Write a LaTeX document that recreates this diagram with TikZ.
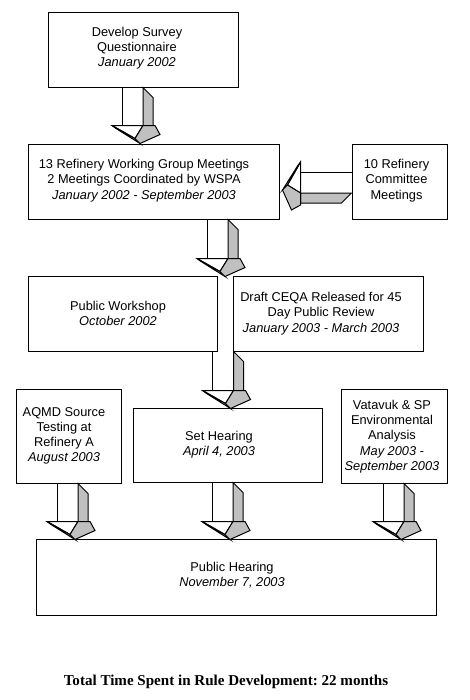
\documentclass[tikz,border=0pt]{standalone}
\usepackage{fontspec}
\setmainfont{Liberation Sans}
\newfontfamily\footfont{Liberation Serif}
\usetikzlibrary{calc}
\definecolor{side}{RGB}{192,192,192}
\frenchspacing
\tikzset{
    stage/.style={draw, fill=white, inner sep=0pt}, % the box of one step
    stagetext/.style={align=center, inner sep=0pt, font=\fontsize{9.6}{11.4}\selectfont}, % text set in a box
    pics/droparrow/.style={code={ % block arrow pointing down, #1 = shaft length
        \fill[white] (0,0) rectangle (21,#1);
        \draw (0,0) -- (0,#1);
        \filldraw[fill=side] (21,0) -- (31,10) -- (31,#1) -- (21,#1) -- cycle;
        \filldraw[fill=white] (-10,#1) -- (21,#1) -- (13,#1+13) -- cycle;
        \filldraw[fill=side] (-10,#1) -- (-6,#1+3) -- (18,#1+18) -- (13,#1+13) -- cycle;
        \filldraw[fill=side] (21,#1) -- (33,#1) -- (38,#1+9) -- (18,#1+18) -- (13,#1+13) -- cycle;
    }},
}

\begin{document}
\begin{tikzpicture}[x=0.75pt, y=-0.75pt, line width=0.75pt]
    \fill[white] (0,0) rectangle (470,700);

    % boxes
    \node[stage, minimum width=142.5pt, minimum height=56.25pt] (survey) at (143,49.5) {};
    \node[stage, minimum width=188.25pt, minimum height=56.25pt] (wg) at (153.5,181.5) {};
    \node[stage, minimum width=71.25pt, minimum height=56.25pt] (comm) at (399.5,181.5) {};
    \node[stage, minimum width=141.75pt, minimum height=56.25pt] (shop) at (122.5,313.5) {};
    \node[stage, minimum width=142.5pt, minimum height=56.25pt] (ceqa) at (328,313.5) {};
    \node[stage, minimum width=78.75pt, minimum height=70.5pt] (test) at (68.5,436) {};
    \node[stage, minimum width=141.75pt, minimum height=55.5pt] (set) at (227.5,445) {};
    \node[stage, minimum width=79.5pt, minimum height=70.5pt] (env) at (394,436) {};
    \node[stage, minimum width=300pt, minimum height=57pt] (hear) at (236,577) {};

    % texts
    \node[stagetext] (surveyT) at ($(survey)+(-6,-1.5)$) {Develop Survey\\Questionnaire\\\textit{January 2002}};
    \node[stagetext] (wgT) at ($(wg)+(-9.5,-1)$) {13 Refinery Working Group Meetings\\2 Meetings Coordinated by WSPA\\\textit{January 2002 - September 2003}};
    \node[stagetext] (commT) at ($(comm)+(-3,-1)$) {10 Refinery\\Committee\\Meetings};
    \node[stagetext] (shopT) at ($(shop)+(-4.5,0)$) {Public Workshop\\\textit{October 2002}};
    \node[stagetext] (ceqaT) at ($(ceqa)+(-7,0)$) {Draft CEQA Released for 45\\Day Public Review\\\textit{January 2003 - March 2003}};
    \node[stagetext] (testT) at ($(test)+(-4.5,0)$) {AQMD Source\\Testing at\\Refinery A\\\textit{August 2003}};
    \node[stagetext] (setT) at ($(set)+(-8.5,-0.5)$) {Set Hearing\\\textit{April 4, 2003}};
    \node[stagetext] (envT) at ($(env)+(-2,0.5)$) {Vatavuk \& SP\\Environmental\\Analysis\\\textit{May 2003 -}\\\textit{September 2003}};
    \node[stagetext] (hearT) at ($(hear)+(-4,-1.5)$) {Public Hearing\\\textit{November 7, 2003}};
    \node[font=\footfont\bfseries\fontsize{11.3}{13}\selectfont, inner sep=0pt] (total) at (226,682) {Total Time Spent in Rule Development: 22 months};

    % block arrows
    \pic at ($(survey.south)+(-21,0)$) {droparrow=38};
    \pic at ($(wg.south)+(53.5,0)$) {droparrow=39};
    \pic[rotate=-90] at ($(comm.west)+(0,-9.5)$) {droparrow=51};
    \pic at ($(shop.south east)+(-5,0)$) {droparrow=39};
    \pic at ($(test.south)+(-11.5,0)$) {droparrow=38};
    \pic at ($(set.south)+(-15.5,0)$) {droparrow=39};
    \pic at ($(env.south)+(-11,0)$) {droparrow=38};
\end{tikzpicture}
\end{document}
